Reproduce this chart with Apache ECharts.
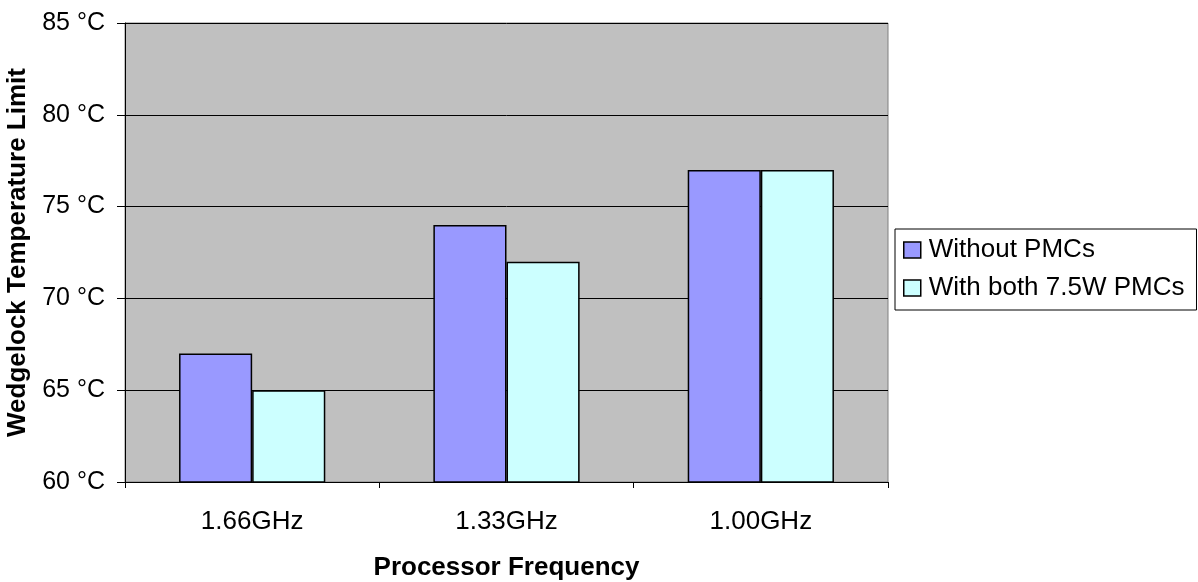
<!DOCTYPE html>
<html><head><meta charset="utf-8">
<script src="https://cdn.jsdelivr.net/npm/echarts@6/dist/echarts.min.js"></script>
<style>html,body{margin:0;padding:0;background:#fff}#c{width:1198px;height:582px}</style>
</head><body><div id="c"></div>
<script>
const categories = ['1.66GHz', '1.33GHz', '1.00GHz'];
const withoutPMCs = [67, 74, 77];
const withBothPMCs = [65, 72, 77];
const seriesNames = ['Without PMCs', 'With both 7.5W PMCs'];
const yTicks = [60, 65, 70, 75, 80, 85];

const chart = echarts.init(document.getElementById('c'));
const font = 'Liberation Sans, Arial, sans-serif';
chart.setOption({
  animation: false,
  backgroundColor: '#fff',
  grid: { left: 125, top: 23, right: 310, bottom: 100, outerBoundsMode: 'none', containLabel: false,
    show: true, backgroundColor: '#C0C0C0', borderColor: '#808080', borderWidth: 1 },
  legend: {
    orient: 'vertical', left: 895, top: 229,
    backgroundColor: '#fff', borderColor: '#000', borderWidth: 1,
    padding: [8, 12, 9, 8], itemGap: 12, itemWidth: 17, itemHeight: 16,
    icon: 'rect',
    textStyle: { fontFamily: font, fontSize: 26, color: '#000', padding: [0, 0, 0, 3] },
    itemStyle: { borderColor: '#000', borderWidth: 1.5 },
    data: seriesNames
  },
  xAxis: {
    type: 'category', data: categories,
    name: 'Processor Frequency', nameLocation: 'middle', nameGap: 73,
    nameTextStyle: { fontFamily: font, fontSize: 26, fontWeight: 'bold', color: '#000' },
    axisLine: { lineStyle: { color: '#000', width: 1 } },
    axisTick: { show: true, length: 6, lineStyle: { color: '#000' } },
    axisLabel: { fontFamily: font, fontSize: 26, color: '#000', margin: 27 }
  },
  yAxis: {
    type: 'value', min: 60, max: 85, interval: 5,
    name: 'Wedgelock Temperature Limit', nameLocation: 'middle', nameGap: 91,
    nameTextStyle: { fontFamily: font, fontSize: 26, fontWeight: 'bold', color: '#000' },
    axisLine: { show: true, lineStyle: { color: '#000', width: 1 } },
    axisTick: { show: true, length: 8, lineStyle: { color: '#000' } },
    axisLabel: { fontFamily: font, fontSize: 25, color: '#000', margin: 20,
      formatter: v => yTicks.includes(v) ? v + ' °C' : '' },
    splitLine: { show: true, lineStyle: { color: '#000', width: 1 } }
  },
  series: [
    { name: seriesNames[0], type: 'bar', data: withoutPMCs, barGap: '0%', barCategoryGap: '42.5%',
      itemStyle: { color: '#9999FF', borderColor: '#000', borderWidth: 1.5 } },
    { name: seriesNames[1], type: 'bar', data: withBothPMCs,
      itemStyle: { color: '#CCFFFF', borderColor: '#000', borderWidth: 1.5 } }
  ]
});
</script></body></html>
